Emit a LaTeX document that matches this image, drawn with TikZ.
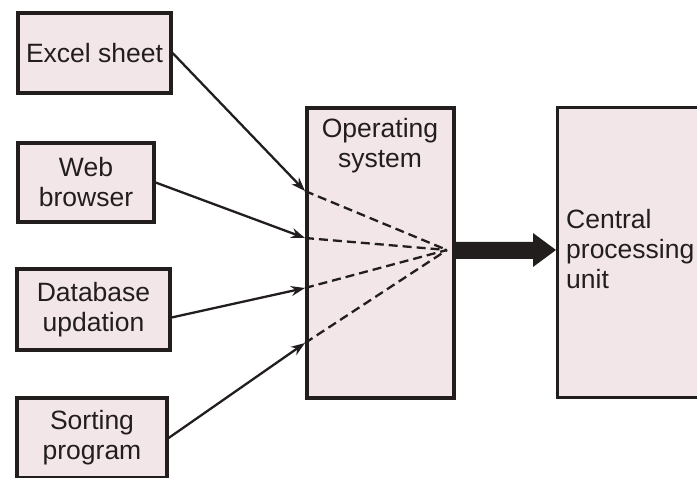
\documentclass[tikz,border=0pt]{standalone}
\usepackage{fontspec}
\setmainfont{Liberation Sans}
\usetikzlibrary{arrows.meta}
\definecolor{boxfill}{RGB}{242,230,232}
\definecolor{ink}{RGB}{35,30,30}
\tikzset{
  task/.style={draw=ink, line width=3.2pt, fill=boxfill, inner sep=0pt,
    align=center, font=\fontsize{26.5}{30}\selectfont, text=ink},
  unit/.style={draw=ink, line width=3.2pt, fill=boxfill, inner sep=0pt},
  feed/.style={draw=ink, line width=2.3pt, -{Stealth[length=14pt,width=10pt]}},
  route/.style={draw=ink, line width=2.3pt, dash pattern=on 9pt off 5pt},
  caption/.style={font=\fontsize{26.5}{30}\selectfont, text=ink, inner sep=0pt}
}
\begin{document}
\begin{tikzpicture}[x=1pt,y=-1pt]
  \useasboundingbox (0,0) rectangle (697,478);
  \clip (0,0) rectangle (697,478);
  \fill[white] (0,0) rectangle (697,478);

  % program boxes
  \node[task, minimum width=153pt, minimum height=80pt] (excel) at (94.5,53) {Excel sheet};
  \node[task, minimum width=136pt, minimum height=79pt] (web) at (86,182.5) {Web\\browser};
  \node[task, minimum width=153pt, minimum height=81pt] (db) at (93.5,309.5) {Database\\updation};
  \node[task, minimum width=150pt, minimum height=80pt] (sort) at (92,438) {Sorting\\program};

  % operating system and processor
  \node[unit, minimum width=147pt, minimum height=290pt] (os) at (380.5,253) {};
  \node[caption, align=center, anchor=north] (ostext) at (380,118) {Operating\\system};
  \node[unit, minimum width=160pt, minimum height=290pt, anchor=north west] (cpu) at (556,106) {};
  \node[caption, align=left, anchor=west] (cputext) at (566,249) {Central\\processing\\unit};

  % entry points on the operating system and the merge point
  \coordinate (e1) at (305,191);
  \coordinate (e2) at (305,238);
  \coordinate (e3) at (305,288);
  \coordinate (e4) at (305,343);
  \coordinate (merge) at (447,250);

  \draw[feed] (excel.east) -- (e1);
  \draw[feed] (web.east) -- (e2);
  \draw[feed] ([yshift=-8pt]db.east) -- (e3);
  \draw[feed] (sort.east) -- (e4);

  \draw[route] (e1) -- (merge);
  \draw[route] (e2) -- (merge);
  \draw[route] (e3) -- (merge);
  \draw[route] (e4) -- (merge);

  % thick arrow towards the processor
  \fill[ink] (os.east |- 0,242) -- (533,242) -- (533,233) -- (cpu.west |- 0,250)
    -- (533,267) -- (533,259) -- (os.east |- 0,259) -- cycle;
\end{tikzpicture}
\end{document}
